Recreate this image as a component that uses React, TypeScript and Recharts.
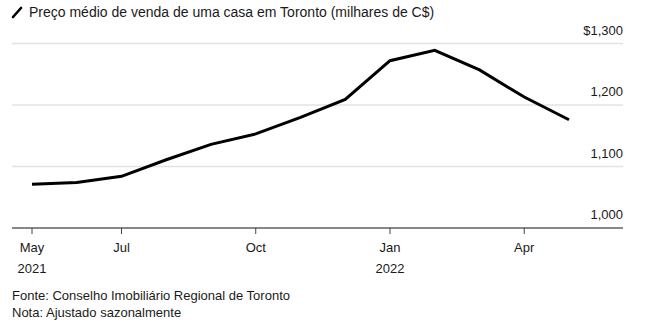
import { LineChart, Line, XAxis, YAxis, CartesianGrid } from "recharts";

// Monthly average home price in Toronto, thousands of C$ (seasonally adjusted)
const months = ["May 2021", "Jun 2021", "Jul 2021", "Aug 2021", "Sep 2021", "Oct 2021", "Nov 2021", "Dec 2021", "Jan 2022", "Feb 2022", "Mar 2022", "Apr 2022", "May 2022"];
const prices = [1071, 1074, 1084, 1111, 1136, 1153, 1180, 1209, 1272, 1289, 1257, 1213, 1176];

const xTicks = [0, 2, 5, 8, 11];
const xTickLabels = ["May|2021", "Jul", "Oct", "Jan|2022", "Apr"];
const yTicks = [1000, 1100, 1200, 1300];
const yTickLabels = ["1,000", "1,100", "1,200", "$1,300"];

const FONT = "'Liberation Sans', Arial, Helvetica, sans-serif";
const TEXT = "#1a1a1a";

const data = months.map((m, i) => ({ i, month: m, price: prices[i] }));

function XTick({ x, y, payload }: any) {
  const idx = xTicks.indexOf(payload.value);
  const lines = (xTickLabels[idx] ?? "").split("|");
  return (
    <g>
      {lines.map((l, k) => (
        <text key={k} x={x} y={y + 16 + k * 21} textAnchor="middle" fontSize={13} fontFamily={FONT} fill={TEXT}>{l}</text>
      ))}
    </g>
  );
}

// labels sit above their gridline, right-aligned to the gridline end
function YTick({ y, payload }: any) {
  const idx = yTicks.indexOf(payload.value);
  return (
    <text x={623} y={y - 9} textAnchor="end" fontSize={13} fontFamily={FONT} fill={TEXT}>{yTickLabels[idx]}</text>
  );
}

export default function App() {
  return (
    <div style={{ position: "absolute", left: 0, top: 0, width: 659, height: 326, background: "#fff", fontFamily: FONT, color: TEXT }}>
      <div style={{ position: "absolute", left: 10, top: 4, display: "flex", alignItems: "center", gap: 5, fontSize: 14 }}>
        <svg width={14} height={14} viewBox="0 0 14 14">
          <line x1={3} y1={12} x2={11} y2={3} stroke="#000" strokeWidth={2.6} strokeLinecap="round" />
        </svg>
        <span>Preço médio de venda de uma casa em Toronto (milhares de C$)</span>
      </div>
      <div style={{ position: "absolute", left: 0, top: 0 }}>
        <LineChart width={659} height={280} data={data} margin={{ top: 43.5, right: 0, left: 12, bottom: 0 }}>
          <CartesianGrid vertical={false} stroke="#e3e3e3" strokeWidth={1.5} />
          <XAxis
            dataKey="i"
            type="number"
            domain={[-0.447, 13.207]}
            ticks={xTicks}
            interval={0}
            height={52}
            axisLine={{ stroke: "#666", strokeWidth: 1.5 }}
            tickLine={{ stroke: "#444", strokeWidth: 1 }}
            tickSize={6}
            tick={<XTick />}
          />
          <YAxis
            orientation="right"
            width={36}
            domain={[1000, 1300]}
            ticks={yTicks}
            axisLine={false}
            tickLine={false}
            tick={<YTick />}
          />
          <Line type="linear" dataKey="price" stroke="#000" strokeWidth={3} dot={false} isAnimationActive={false} />
        </LineChart>
      </div>
      <div style={{ position: "absolute", left: 12, top: 287, fontSize: 13, lineHeight: "17px" }}>
        <div>Fonte: Conselho Imobiliário Regional de Toronto</div>
        <div>Nota: Ajustado sazonalmente</div>
      </div>
    </div>
  );
}
